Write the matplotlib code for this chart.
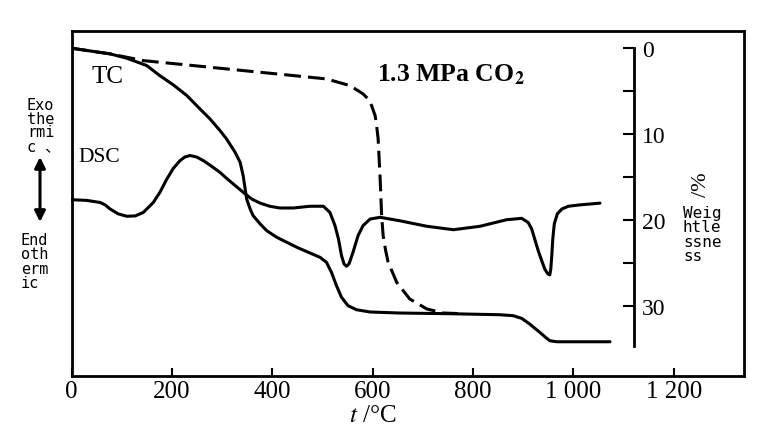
import matplotlib
matplotlib.use('Agg')
import matplotlib.pyplot as plt

plt.rcParams['font.family'] = ['Liberation Serif', 'DejaVu Serif']
plt.rcParams['mathtext.fontset'] = 'stix'

# TG curve (solid), weight loss % vs temperature
tc_temp = [0, 77, 110, 150, 176, 203, 230, 256, 276, 296, 309, 326, 336, 342, 349,
           356, 362, 376, 389, 409, 429, 449, 475, 495, 508, 518, 528, 538, 551, 568,
           595, 654, 754, 854, 880, 897, 913, 933, 947, 953, 967, 1073]
tc_loss = [0, 0.66, 1.16, 2.02, 3.19, 4.27, 5.51, 7.06, 8.22, 9.58, 10.55, 12.1, 13.26,
           14.8, 17.52, 18.7, 19.47, 20.43, 21.21, 21.98, 22.56, 23.14, 23.8, 24.30,
           24.88, 26.05, 27.6, 28.95, 29.93, 30.4, 30.66, 30.78, 30.86, 30.98, 31.09,
           31.4, 32.06, 33.02, 33.72, 34.0, 34.12, 34.12]

# TG curve under 1.3 MPa CO2 (dashed)
co2_temp = [0, 77, 143, 243, 342, 442, 508, 555, 581, 591, 598, 605, 608, 611, 615,
            618, 621, 626, 631, 648, 674, 708, 741, 770]
co2_loss = [0, 0.66, 1.44, 2.02, 2.6, 3.18, 3.57, 4.35, 5.31, 5.9, 6.67, 7.84, 9.0,
            10.55, 15.2, 19.47, 21.79, 23.53, 24.88, 27.21, 29.15, 30.31, 30.78, 30.84]

# DSC curve (arbitrary units, exothermic up)
dsc_temp = [0, 30, 57, 67, 77, 93, 110, 127, 143, 163, 176, 190, 203, 216, 226, 236,
            249, 263, 279, 296, 309, 322, 336, 346, 359, 376, 395, 415, 442, 475, 502,
            515, 525, 532, 538, 543, 548, 553, 561, 571, 581, 595, 615, 654, 708, 761,
            814, 867, 897, 910, 917, 923, 930, 937, 943, 949, 953, 955, 957, 959, 962,
            968, 977, 990, 1013, 1053]
dsc_signal = [51.1, 50.9, 50.3, 49.6, 48.4, 47.0, 46.3, 46.4, 47.4, 50.3, 53.2, 57.1,
              60.2, 62.4, 63.5, 63.9, 63.5, 62.4, 60.8, 59.0, 57.3, 55.7, 54.0, 52.8,
              51.3, 50.1, 49.2, 48.7, 48.7, 49.2, 49.2, 47.4, 43.6, 39.7, 34.9, 32.5,
              31.8, 32.5, 35.9, 40.7, 43.6, 45.5, 46.0, 45.0, 43.4, 42.4, 43.4, 45.3,
              45.7, 44.5, 42.6, 39.7, 36.3, 33.4, 31.0, 29.6, 29.3, 31.0, 34.9, 39.7,
              44.1, 47.0, 48.4, 49.2, 49.6, 50.1]

x_ticks = [0, 200, 400, 600, 800, 1000, 1200]
x_labels = ['0', '200', '400', '600', '800', '1 000', '1 200']
w_ticks = [0, 10, 20, 30]
w_minor = [5, 15, 25]

fig = plt.figure(figsize=(7.71, 4.31), dpi=100)
ax = fig.add_axes([71.5 / 771, 1 - 377 / 431, (744 - 71.5) / 771, (377 - 32) / 431])
ax.set_xlim(0, 1340)
ax.set_ylim(38.1, -2.0)
line_kw = dict(color='black', lw=2.2, solid_joinstyle='round', solid_capstyle='round')
ax.plot(tc_temp, tc_loss, **line_kw)
ax.plot(co2_temp, co2_loss, color='black', lw=2.2, dashes=(5.5, 2.3),
        dash_joinstyle='round')
ax.set_yticks([])
ax.set_xticks(x_ticks)
ax.set_xticklabels(x_labels)
ax.tick_params(axis='x', direction='in', length=6, width=1.5, labelsize=18, pad=3)
for s in ax.spines.values():
    s.set_linewidth(2)
ax.set_xlabel('$t$ /°C', fontsize=18)
ax.xaxis.set_label_coords((373 - 71.5) / 672.5, -0.08)

axd = ax.twinx()
axd.set_ylim(0, 100)
axd.plot(dsc_temp, dsc_signal, **line_kw)
axd.axis('off')

axr = ax.twinx()
axr.set_ylim(38.1, -2.0)
for k in ['top', 'bottom', 'left']:
    axr.spines[k].set_visible(False)
axr.spines['right'].set_position(('axes', (634 - 71.5) / (744 - 71.5)))
axr.spines['right'].set_bounds(0, 34.6)
axr.spines['right'].set_linewidth(2)
axr.set_yticks(w_ticks)
axr.set_yticks(w_minor, minor=True)
axr.tick_params(axis='y', which='both', direction='in', length=8, width=1.5,
                labelsize=17, pad=6)

ax.text(72.7, 3.92, 'TC', fontsize=18, ha='center', va='baseline')
ax.text(13, 13.1, 'DSC', fontsize=15.5, ha='left', va='baseline')
ax.text(0.454, 0.858, '1.3 MPa CO$_\\mathbf{2}$', transform=ax.transAxes, fontsize=18.5,
        fontweight='bold', ha='left', va='baseline')

mono = ['DejaVu Sans Mono', 'Noto Sans CJK SC']
fig.text(702 / 771, 1 - 185 / 431, '/%', rotation=90, fontsize=16,
         ha='center', va='center')
fig.text(683 / 771, 1 - 206 / 431, 'Weig\nhtle\nssne\nss', family=mono,
         fontsize=11.5, linespacing=0.95, ha='left', va='top')
fig.text(27 / 771, 1 - 98 / 431, 'Exo\nthe\nrmi\nc 、', family=mono,
         fontsize=11, linespacing=0.88, ha='left', va='top')
fig.text(21 / 771, 1 - 233 / 431, 'End\noth\nerm\nic', family=mono,
         fontsize=11, linespacing=0.95, ha='left', va='top')
fig.add_artist(matplotlib.patches.FancyArrowPatch(
    (40 / 771, 1 - 158 / 431), (40 / 771, 1 - 223 / 431), transform=fig.transFigure,
    arrowstyle='<|-|>', mutation_scale=16, lw=2.2, color='black',
    shrinkA=0, shrinkB=0))

fig.savefig('out.png', dpi=100)
